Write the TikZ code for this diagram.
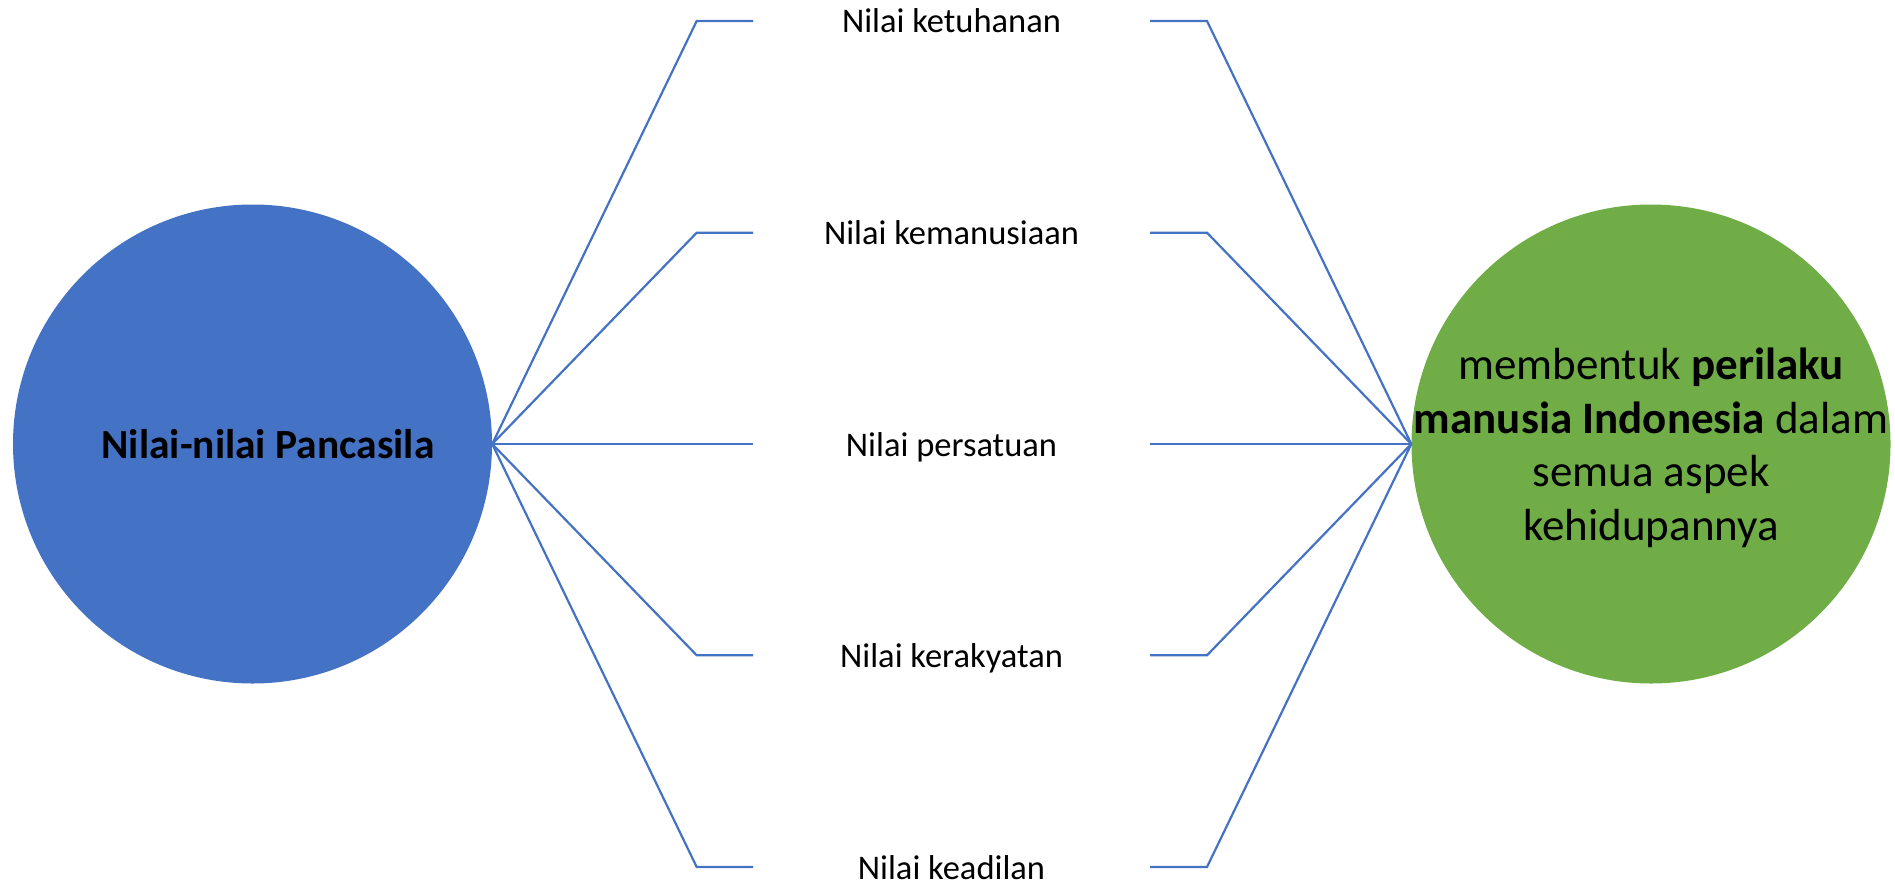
\documentclass[tikz,border=0pt]{standalone}
\usepackage{fontspec}
\setmainfont{Carlito}
\definecolor{cblue}{HTML}{4472C4}
\definecolor{cgreen}{HTML}{70AD47}
\tikzset{
  bigcircle/.style={circle, minimum size=479pt, inner sep=0pt, draw=none},
  link/.style={draw=cblue, line width=2.2pt, line join=miter},
  valuelabel/.style={anchor=base, inner sep=0pt, font=\fontsize{34.5}{40}\selectfont},
}
\begin{document}
\begin{tikzpicture}[x=1pt, y=-1pt]
\useasboundingbox (0,0) rectangle (1895,883);

% source and result circles
\node[bigcircle, fill=cblue] (src) at (252.5,444) {};
\node[font=\fontsize{41.5}{50}\selectfont\bfseries] (srctext) at (268,444) {Nilai-nilai Pancasila};
\node[bigcircle, fill=cgreen] (dst) at (1651,444) {};
\node[align=center, font=\fontsize{45}{53.5}\selectfont] (dsttext) at (1651,448)
  {membentuk \textbf{perilaku}\\\textbf{manusia Indonesia} dalam\\semua aspek\\kehidupannya};

% the five values, each on its own row
\foreach \i/\y/\t in {1/21/Nilai ketuhanan, 2/232.7/Nilai kemanusiaan, 3/444/Nilai persatuan, 4/655.3/Nilai kerakyatan, 5/867/Nilai keadilan}{
  \coordinate (lc\i) at (696.7,\y);
  \coordinate (le\i) at (753,\y);
  \coordinate (rs\i) at (1150,\y);
  \coordinate (rc\i) at (1207,\y);
  \node[valuelabel] (v\i) at (951.5,\y+12) {\t};
  \draw[link] (src.east) -- (lc\i) -- (le\i);
  \draw[link] (rs\i) -- (rc\i) -- (dst.west);
}
\end{tikzpicture}
\end{document}
